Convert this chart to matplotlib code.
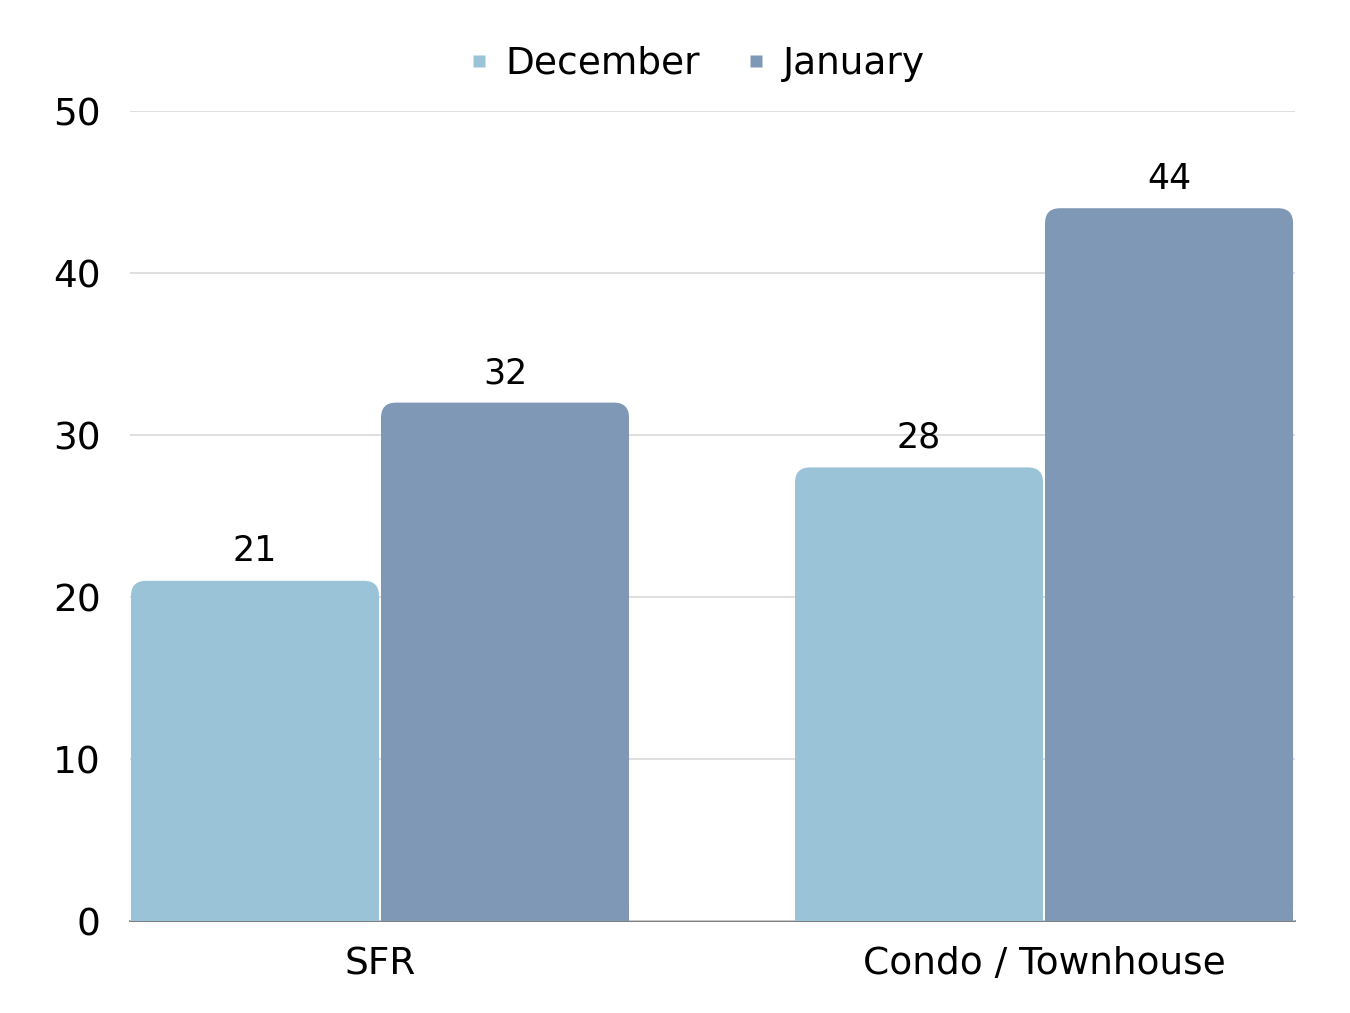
import numpy as np
import matplotlib.pyplot as plt
from matplotlib.patches import FancyBboxPatch, Rectangle
from matplotlib.lines import Line2D

categories = ["SFR", "Condo / Townhouse"]
series_names = ["December", "January"]
december = [21, 28]
january = [32, 44]
colors = ["#9BC3D8", "#7F98B5"]

plt.rcParams["font.family"] = ["DejaVu Sans"]

fig = plt.figure(figsize=(13.5, 10.13), dpi=100)
ax = fig.add_axes([0.0963, 0.0908, 0.8630, 0.7996])

x = np.arange(len(categories))
width = 0.3765
gap = 0.003

ax.set_xlim(-0.3765, 1.378)
ax.set_ylim(0, 50)
ax.set_yticks([0, 10, 20, 30, 40, 50])
ax.grid(axis="y", color="#D9D9D9", linewidth=1.2)
ax.set_axisbelow(True)

for s in ["top", "right", "left"]:
    ax.spines[s].set_visible(False)
ax.spines["bottom"].set_color("#666666")
ax.spines["bottom"].set_linewidth(1.2)
ax.spines["bottom"].set_zorder(0.5)

ax.tick_params(axis="y", length=0, pad=21, labelsize=27)
ax.tick_params(axis="x", length=0, pad=18, labelsize=27)
ax.set_xticks(x)
ax.set_xticklabels(categories)

# pixel scale, used to keep the corner radius round
fig.canvas.draw()
bbox = ax.get_window_extent()
px_x = bbox.width / (ax.get_xlim()[1] - ax.get_xlim()[0])
px_y = bbox.height / (ax.get_ylim()[1] - ax.get_ylim()[0])
radius_px = 15
rx = radius_px / px_x
ry = radius_px / px_y

for i, (vals, col) in enumerate(zip([december, january], colors)):
    offs = (i - 0.5) * width
    bars = ax.bar(x + offs, vals, width - gap, color=col, linewidth=0)
    for b in bars:
        bx, bw, bh = b.get_x(), b.get_width(), b.get_height()
        b.set_visible(False)
        ax.add_patch(FancyBboxPatch((bx, 0), bw, bh,
                                    boxstyle=f"round,pad=0,rounding_size={rx}",
                                    mutation_aspect=ry / rx,
                                    facecolor=col, edgecolor="none", zorder=2))
        ax.add_patch(Rectangle((bx, 0), bw, bh - ry, facecolor=col,
                               edgecolor="none", zorder=2))
        ax.annotate(f"{bh:g}", (bx + bw / 2, bh), xytext=(0, 9),
                    textcoords="offset points", ha="center", va="bottom",
                    fontsize=25, color="black")

handles = [Line2D([], [], marker="s", linestyle="none", markersize=9,
                  markerfacecolor=c, markeredgecolor="none") for c in colors]
fig.legend(handles, series_names, loc="center", bbox_to_anchor=(0.513, 0.937),
           ncol=2, frameon=False, fontsize=27, handletextpad=0.2,
           columnspacing=1.0, handlelength=1.0)

fig.savefig("out.png", dpi=100)
